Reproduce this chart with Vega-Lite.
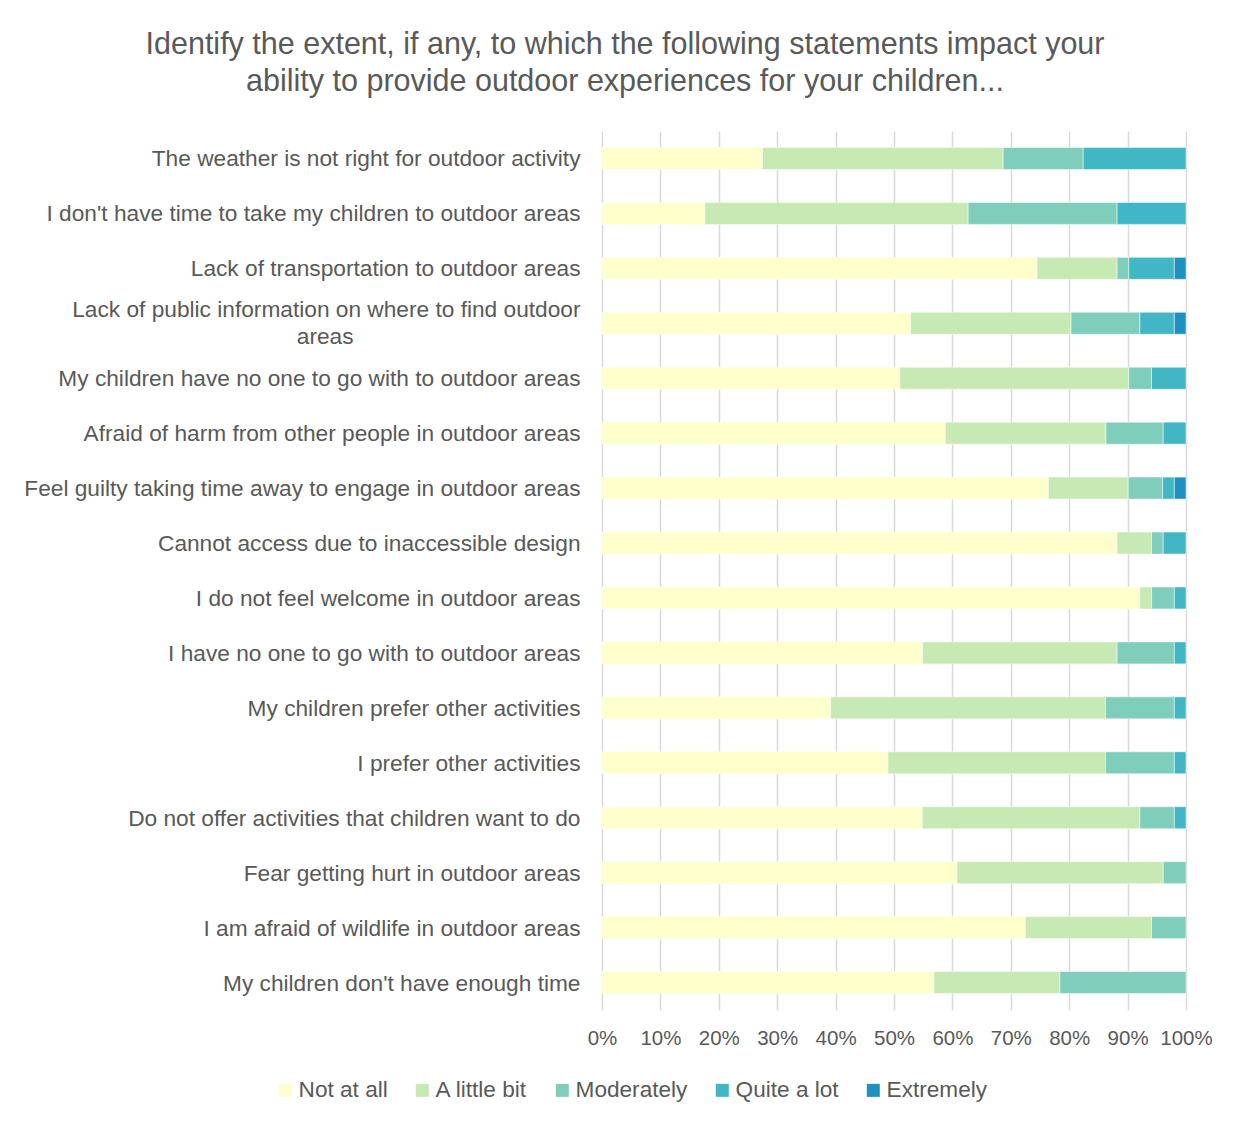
{
  "$schema": "https://vega.github.io/schema/vega-lite/v6.json",
  "autosize": {"type": "none"},
  "width": 584,
  "height": 879,
  "padding": {"left": 602, "top": 131, "right": 58, "bottom": 113},
  "background": "white",
  "title": {
    "text": ["Identify the extent, if any, to which the following statements impact your", "ability to provide outdoor experiences for your children..."],
    "anchor": "middle",
    "dx": -269,
    "offset": 34,
    "font": "Liberation Sans",
    "fontSize": 30.5,
    "fontWeight": "normal",
    "color": "#595959",
    "lineHeight": 37
  },
  "config": {
    "view": {"stroke": null},
    "font": "Liberation Sans"
  },
  "data": {
    "values": [
      {"statement": "The weather is not right for outdoor activity", "level": "Not at all", "rank": 1, "pct": 27.5},
      {"statement": "The weather is not right for outdoor activity", "level": "A little bit", "rank": 2, "pct": 41.2},
      {"statement": "The weather is not right for outdoor activity", "level": "Moderately", "rank": 3, "pct": 13.7},
      {"statement": "The weather is not right for outdoor activity", "level": "Quite a lot", "rank": 4, "pct": 17.6},
      {"statement": "I don't have time to take my children to outdoor areas", "level": "Not at all", "rank": 1, "pct": 17.6},
      {"statement": "I don't have time to take my children to outdoor areas", "level": "A little bit", "rank": 2, "pct": 45.1},
      {"statement": "I don't have time to take my children to outdoor areas", "level": "Moderately", "rank": 3, "pct": 25.5},
      {"statement": "I don't have time to take my children to outdoor areas", "level": "Quite a lot", "rank": 4, "pct": 11.8},
      {"statement": "Lack of transportation to outdoor areas", "level": "Not at all", "rank": 1, "pct": 74.5},
      {"statement": "Lack of transportation to outdoor areas", "level": "A little bit", "rank": 2, "pct": 13.7},
      {"statement": "Lack of transportation to outdoor areas", "level": "Moderately", "rank": 3, "pct": 2.0},
      {"statement": "Lack of transportation to outdoor areas", "level": "Quite a lot", "rank": 4, "pct": 7.8},
      {"statement": "Lack of transportation to outdoor areas", "level": "Extremely", "rank": 5, "pct": 2.0},
      {"statement": "Lack of public information on where to find outdoor areas", "level": "Not at all", "rank": 1, "pct": 52.9},
      {"statement": "Lack of public information on where to find outdoor areas", "level": "A little bit", "rank": 2, "pct": 27.5},
      {"statement": "Lack of public information on where to find outdoor areas", "level": "Moderately", "rank": 3, "pct": 11.8},
      {"statement": "Lack of public information on where to find outdoor areas", "level": "Quite a lot", "rank": 4, "pct": 5.9},
      {"statement": "Lack of public information on where to find outdoor areas", "level": "Extremely", "rank": 5, "pct": 2.0},
      {"statement": "My children have no one to go with to outdoor areas", "level": "Not at all", "rank": 1, "pct": 51.0},
      {"statement": "My children have no one to go with to outdoor areas", "level": "A little bit", "rank": 2, "pct": 39.2},
      {"statement": "My children have no one to go with to outdoor areas", "level": "Moderately", "rank": 3, "pct": 3.9},
      {"statement": "My children have no one to go with to outdoor areas", "level": "Quite a lot", "rank": 4, "pct": 5.9},
      {"statement": "Afraid of harm from other people in outdoor areas", "level": "Not at all", "rank": 1, "pct": 58.8},
      {"statement": "Afraid of harm from other people in outdoor areas", "level": "A little bit", "rank": 2, "pct": 27.5},
      {"statement": "Afraid of harm from other people in outdoor areas", "level": "Moderately", "rank": 3, "pct": 9.8},
      {"statement": "Afraid of harm from other people in outdoor areas", "level": "Quite a lot", "rank": 4, "pct": 3.9},
      {"statement": "Feel guilty taking time away to engage in outdoor areas", "level": "Not at all", "rank": 1, "pct": 76.5},
      {"statement": "Feel guilty taking time away to engage in outdoor areas", "level": "A little bit", "rank": 2, "pct": 13.7},
      {"statement": "Feel guilty taking time away to engage in outdoor areas", "level": "Moderately", "rank": 3, "pct": 5.9},
      {"statement": "Feel guilty taking time away to engage in outdoor areas", "level": "Quite a lot", "rank": 4, "pct": 2.0},
      {"statement": "Feel guilty taking time away to engage in outdoor areas", "level": "Extremely", "rank": 5, "pct": 2.0},
      {"statement": "Cannot access due to inaccessible design", "level": "Not at all", "rank": 1, "pct": 88.2},
      {"statement": "Cannot access due to inaccessible design", "level": "A little bit", "rank": 2, "pct": 5.9},
      {"statement": "Cannot access due to inaccessible design", "level": "Moderately", "rank": 3, "pct": 2.0},
      {"statement": "Cannot access due to inaccessible design", "level": "Quite a lot", "rank": 4, "pct": 3.9},
      {"statement": "I do not feel welcome in outdoor areas", "level": "Not at all", "rank": 1, "pct": 92.2},
      {"statement": "I do not feel welcome in outdoor areas", "level": "A little bit", "rank": 2, "pct": 2.0},
      {"statement": "I do not feel welcome in outdoor areas", "level": "Moderately", "rank": 3, "pct": 3.9},
      {"statement": "I do not feel welcome in outdoor areas", "level": "Quite a lot", "rank": 4, "pct": 2.0},
      {"statement": "I have no one to go with to outdoor areas", "level": "Not at all", "rank": 1, "pct": 54.9},
      {"statement": "I have no one to go with to outdoor areas", "level": "A little bit", "rank": 2, "pct": 33.3},
      {"statement": "I have no one to go with to outdoor areas", "level": "Moderately", "rank": 3, "pct": 9.8},
      {"statement": "I have no one to go with to outdoor areas", "level": "Quite a lot", "rank": 4, "pct": 2.0},
      {"statement": "My children prefer other activities", "level": "Not at all", "rank": 1, "pct": 39.2},
      {"statement": "My children prefer other activities", "level": "A little bit", "rank": 2, "pct": 47.1},
      {"statement": "My children prefer other activities", "level": "Moderately", "rank": 3, "pct": 11.8},
      {"statement": "My children prefer other activities", "level": "Quite a lot", "rank": 4, "pct": 2.0},
      {"statement": "I prefer other activities", "level": "Not at all", "rank": 1, "pct": 49.0},
      {"statement": "I prefer other activities", "level": "A little bit", "rank": 2, "pct": 37.3},
      {"statement": "I prefer other activities", "level": "Moderately", "rank": 3, "pct": 11.8},
      {"statement": "I prefer other activities", "level": "Quite a lot", "rank": 4, "pct": 2.0},
      {"statement": "Do not offer activities that children want to do", "level": "Not at all", "rank": 1, "pct": 54.9},
      {"statement": "Do not offer activities that children want to do", "level": "A little bit", "rank": 2, "pct": 37.3},
      {"statement": "Do not offer activities that children want to do", "level": "Moderately", "rank": 3, "pct": 5.9},
      {"statement": "Do not offer activities that children want to do", "level": "Quite a lot", "rank": 4, "pct": 2.0},
      {"statement": "Fear getting hurt in outdoor areas", "level": "Not at all", "rank": 1, "pct": 60.8},
      {"statement": "Fear getting hurt in outdoor areas", "level": "A little bit", "rank": 2, "pct": 35.3},
      {"statement": "Fear getting hurt in outdoor areas", "level": "Moderately", "rank": 3, "pct": 3.9},
      {"statement": "I am afraid of wildlife in outdoor areas", "level": "Not at all", "rank": 1, "pct": 72.5},
      {"statement": "I am afraid of wildlife in outdoor areas", "level": "A little bit", "rank": 2, "pct": 21.6},
      {"statement": "I am afraid of wildlife in outdoor areas", "level": "Moderately", "rank": 3, "pct": 5.9},
      {"statement": "My children don't have enough time", "level": "Not at all", "rank": 1, "pct": 56.9},
      {"statement": "My children don't have enough time", "level": "A little bit", "rank": 2, "pct": 21.6},
      {"statement": "My children don't have enough time", "level": "Moderately", "rank": 3, "pct": 21.6}
    ]
  },
  "mark": {"type": "bar", "stroke": "white", "strokeWidth": 0.5},
  "encoding": {
    "y": {
      "field": "statement",
      "type": "nominal",
      "sort": null,
      "title": null,
      "scale": {"paddingInner": 0.6, "paddingOuter": 0.3},
      "axis": {
        "domain": false,
        "ticks": false,
        "grid": false,
        "labelPadding": 22,
        "labelLimit": 700,
        "labelFont": "Liberation Sans",
        "labelFontSize": 22.7,
        "labelColor": "#595959",
        "labelLineHeight": 27,
        "labelOffset": {"condition": {"test": "datum.value == 'Lack of public information on where to find outdoor areas'", "value": -13}, "value": 1},
        "labelExpr": "datum.value == 'Lack of public information on where to find outdoor areas' ? ['Lack of public information on where to find outdoor', 'areas\u00a0\u00a0\u00a0\u00a0\u00a0\u00a0\u00a0\u00a0\u00a0\u00a0\u00a0\u00a0\u00a0\u00a0\u00a0\u00a0\u00a0\u00a0\u00a0\u00a0\u00a0\u00a0\u00a0\u00a0\u00a0\u00a0\u00a0\u00a0\u00a0\u00a0\u00a0\u00a0\u00a0\u00a0\u00a0\u00a0\u200b'] : datum.label"
      }
    },
    "x": {
      "field": "pct",
      "type": "quantitative",
      "stack": "normalize",
      "title": null,
      "scale": {"domain": [0, 1]},
      "axis": {
        "values": [0, 0.1, 0.2, 0.3, 0.4, 0.5, 0.6, 0.7, 0.8, 0.9, 1],
        "format": ".0%",
        "domain": false,
        "ticks": false,
        "grid": true,
        "gridColor": "#D9D9D9",
        "gridWidth": 1.5,
        "labelPadding": 18,
        "labelFont": "Liberation Sans",
        "labelFontSize": 20.5,
        "labelColor": "#595959",
        "labelFlush": false
      }
    },
    "order": {"field": "rank", "type": "quantitative", "sort": "ascending"},
    "color": {
      "field": "level",
      "type": "nominal",
      "sort": ["Not at all", "A little bit", "Moderately", "Quite a lot", "Extremely"],
      "scale": {
        "domain": ["Not at all", "A little bit", "Moderately", "Quite a lot", "Extremely"],
        "range": ["#FFFFCC", "#C7E9B4", "#7FCDBB", "#41B6C4", "#1D91C0"]
      },
      "legend": {
        "title": null,
        "orient": "none",
        "direction": "horizontal",
        "legendX": -328,
        "legendY": 948,
        "symbolType": "square",
        "symbolSize": 169,
        "symbolStrokeWidth": 0,
        "labelFont": "Liberation Sans",
        "labelFontSize": 22.6,
        "labelColor": "#595959",
        "labelOffset": 2,
        "columnPadding": 23
      }
    }
  }
}
